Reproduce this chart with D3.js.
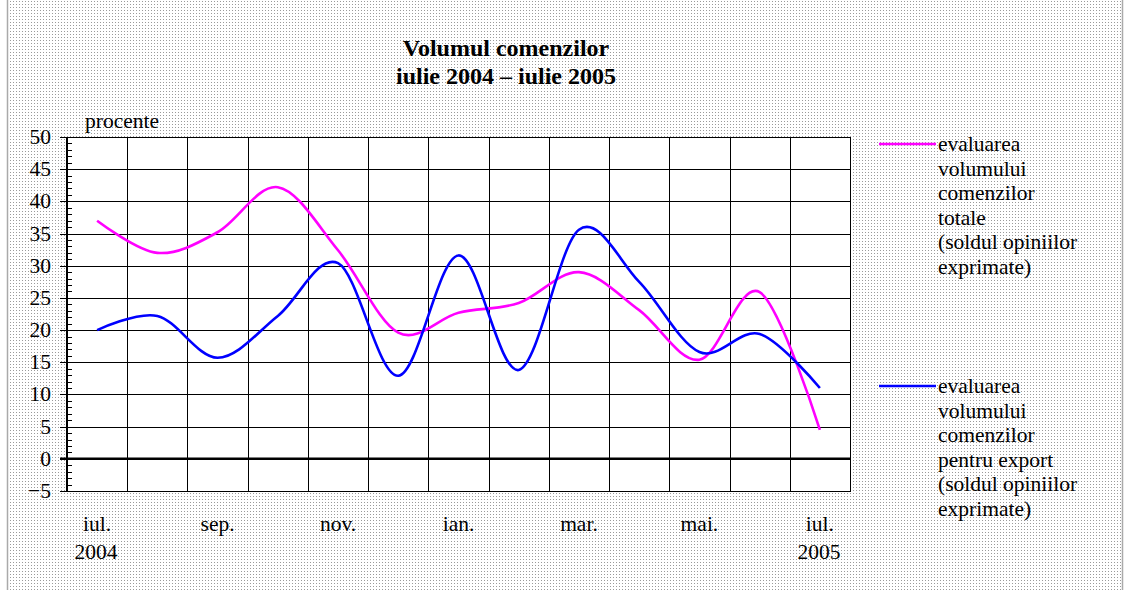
<!DOCTYPE html>
<html>
<head>
<meta charset="utf-8">
<script src="https://cdn.jsdelivr.net/npm/d3@7/dist/d3.min.js"></script>
<style>
  body { margin: 0; background: #fff; }
  text { font-family: "Liberation Serif", "Times New Roman", serif; fill: #000; }
</style>
</head>
<body>
<div id="chart"></div>
<script>
var months = ["iul.", "aug.", "sep.", "oct.", "nov.", "dec.", "ian.", "feb.", "mar.", "apr.", "mai.", "iun.", "iul."];
var yearLabels = ["2004", "", "", "", "", "", "", "", "", "", "", "", "2005"];
var totalOrders = [37, 32, 35.2, 42.2, 32.4, 19.6, 22.7, 24.2, 29, 23.1, 15.4, 25.9, 4.5];
var exportOrders = [20, 22.2, 15.7, 22.2, 30.4, 12.9, 31.6, 13.8, 35.6, 27.5, 16.6, 19.4, 11];
var yTicks = [-5, 0, 5, 10, 15, 20, 25, 30, 35, 40, 45, 50];
var legendTotal = ["evaluarea", "volumului", "comenzilor", "totale", "(soldul opiniilor", "exprimate)"];
var legendExport = ["evaluarea", "volumului", "comenzilor", "pentru export", "(soldul opiniilor", "exprimate)"];

var attrs = {
    width: 1124,
    height: 590,
    plot: { left: 67, right: 850, top: 137, bottom: 491 },
    totalColor: "#ff00ff",
    exportColor: "#0000ff",
    lineWidth: 2.6,
    fontSize: "21.5px"
};

var svg = d3.select("#chart").append("svg")
    .attr("width", attrs.width)
    .attr("height", attrs.height);

// dotted background
var defs = svg.append("defs");
var pat = defs.append("pattern")
    .attr("id", "dots")
    .attr("width", 3).attr("height", 3)
    .attr("patternUnits", "userSpaceOnUse");
pat.append("rect").attr("width", 3).attr("height", 3).attr("fill", "#fff");
pat.append("rect").attr("x", 1).attr("y", 1).attr("width", 1).attr("height", 1).attr("fill", "#9a9a9a");

svg.append("rect")
    .attr("x", 7).attr("y", 0)
    .attr("width", 1115).attr("height", 590)
    .attr("fill", "url(#dots)");
svg.append("line").attr("x1", 7.5).attr("x2", 7.5).attr("y1", 0).attr("y2", 590)
    .attr("stroke", "#aaa").attr("stroke-width", 1.5);
svg.append("line").attr("x1", 1122.5).attr("x2", 1122.5).attr("y1", 0).attr("y2", 590)
    .attr("stroke", "#aaa").attr("stroke-width", 1.5);

var p = attrs.plot;
var x = d3.scaleBand()
    .domain(d3.range(months.length))
    .range([p.left, p.right]);
var y = d3.scaleLinear()
    .domain([-5, 50])
    .range([p.bottom, p.top]);

var g = svg.append("g");

g.append("rect")
    .attr("x", p.left).attr("y", p.top)
    .attr("width", p.right - p.left).attr("height", p.bottom - p.top)
    .attr("fill", "#fff");

// vertical grid at category boundaries
g.selectAll(".vgrid")
    .data(d3.range(1, months.length))
    .enter().append("line")
    .attr("x1", function(d){ return Math.round(x(d)) + 0.5; })
    .attr("x2", function(d){ return Math.round(x(d)) + 0.5; })
    .attr("y1", p.top).attr("y2", p.bottom)
    .attr("stroke", "#000").attr("stroke-width", 1);

// horizontal grid
g.selectAll(".hgrid")
    .data(yTicks.filter(function(d){ return d !== 0; }))
    .enter().append("line")
    .attr("x1", p.left - 7).attr("x2", p.right)
    .attr("y1", function(d){ return Math.round(y(d)) + 0.5; })
    .attr("y2", function(d){ return Math.round(y(d)) + 0.5; })
    .attr("stroke", "#000").attr("stroke-width", 1);

// plot border
g.append("rect")
    .attr("x", p.left + 0.5).attr("y", p.top + 0.5)
    .attr("width", p.right - p.left).attr("height", p.bottom - p.top)
    .attr("fill", "none").attr("stroke", "#000");

// minor ticks
g.selectAll(".minor")
    .data(d3.range(-5, 51))
    .enter().append("line")
    .attr("x1", p.left).attr("x2", p.left + 5)
    .attr("y1", function(d){ return Math.round(y(d)) + 0.5; })
    .attr("y2", function(d){ return Math.round(y(d)) + 0.5; })
    .attr("stroke", "#000");

// y axis line and zero line
g.append("line")
    .attr("x1", p.left).attr("x2", p.left)
    .attr("y1", p.top).attr("y2", p.bottom)
    .attr("stroke", "#000").attr("stroke-width", 2);
g.append("line")
    .attr("x1", p.left - 7).attr("x2", p.right)
    .attr("y1", y(0)).attr("y2", y(0))
    .attr("stroke", "#000").attr("stroke-width", 2.5);

// y tick labels
g.selectAll(".ylab")
    .data(yTicks)
    .enter().append("text")
    .attr("x", 51)
    .attr("y", function(d){ return y(d) + 7; })
    .attr("text-anchor", "end")
    .style("font-size", attrs.fontSize)
    .text(function(d){ return d < 0 ? "\u2212" + Math.abs(d) : d; });

g.append("text")
    .attr("x", 85).attr("y", 128)
    .style("font-size", attrs.fontSize)
    .text("procente");

// x labels
var cx = function(i){ return x(i) + x.bandwidth() / 2; };
g.selectAll(".xlab")
    .data(d3.range(months.length).filter(function(i){ return i % 2 === 0; }))
    .enter().append("text")
    .attr("x", function(i){ return cx(i); })
    .attr("y", 531)
    .attr("text-anchor", "middle")
    .style("font-size", attrs.fontSize)
    .text(function(i){ return months[i]; });
g.selectAll(".yearlab")
    .data(d3.range(months.length).filter(function(i){ return yearLabels[i]; }))
    .enter().append("text")
    .attr("x", function(i){ return cx(i) - 1; })
    .attr("y", 559)
    .attr("text-anchor", "middle")
    .style("font-size", attrs.fontSize)
    .text(function(i){ return yearLabels[i]; });

// lines
var line = d3.line()
    .x(function(d, i){ return cx(i); })
    .y(function(d){ return y(d); })
    .curve(d3.curveCatmullRom.alpha(0));

g.append("path").datum(totalOrders)
    .attr("d", line)
    .attr("fill", "none")
    .attr("stroke", attrs.totalColor)
    .attr("stroke-width", attrs.lineWidth);
g.append("path").datum(exportOrders)
    .attr("d", line)
    .attr("fill", "none")
    .attr("stroke", attrs.exportColor)
    .attr("stroke-width", attrs.lineWidth);

// title
svg.append("text")
    .attr("x", 506).attr("y", 56)
    .attr("text-anchor", "middle")
    .style("font-size", "24px").style("font-weight", "bold")
    .text("Volumul comenzilor");
svg.append("text")
    .attr("x", 506).attr("y", 84)
    .attr("text-anchor", "middle")
    .style("font-size", "24px").style("font-weight", "bold")
    .text("iulie 2004 \u2013 iulie 2005");

// legend
function legend(lines, color, top){
    var lg = svg.append("g");
    lg.append("line")
        .attr("x1", 879).attr("x2", 936)
        .attr("y1", top).attr("y2", top)
        .attr("stroke", color).attr("stroke-width", attrs.lineWidth);
    lg.selectAll("text")
        .data(lines)
        .enter().append("text")
        .attr("x", 938)
        .attr("y", function(d, i){ return top + 7 + i * 24.6; })
        .style("font-size", attrs.fontSize)
        .text(function(d){ return d; });
}
legend(legendTotal, attrs.totalColor, 144);
legend(legendExport, attrs.exportColor, 386);
</script>
</body>
</html>
